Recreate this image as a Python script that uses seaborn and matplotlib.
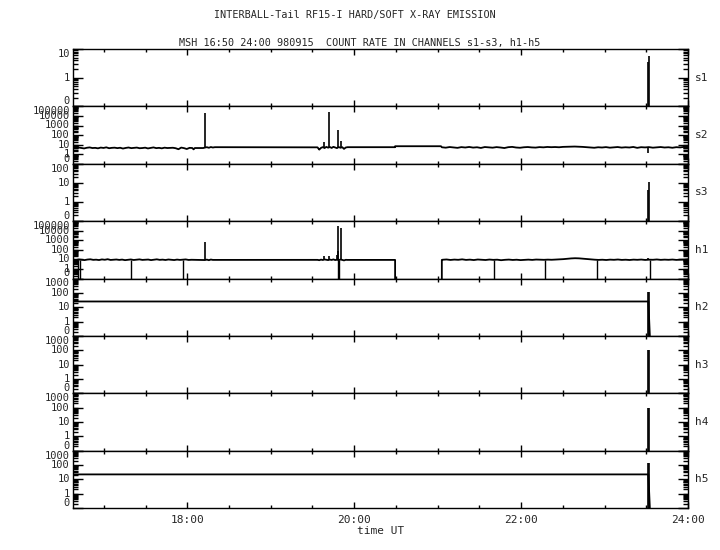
import numpy as np
import matplotlib
matplotlib.use("Agg")
import matplotlib.pyplot as plt
from matplotlib.ticker import MultipleLocator, FixedLocator, NullFormatter, FuncFormatter
import seaborn as sns

# time in hours UT, counts per channel (0 = no counts)
T_START, T_END = 16.63, 24.0
FLOOR = 0.05  # zero counts are drawn below the "0" line of the log axis

channels = ["s1", "s2", "s3", "h1", "h2", "h3", "h4", "h5"]
y_tops = [10, 1e5, 100, 1e5, 1000, 1000, 1000, 1000]

# --- s2: noisy stretches ---
s2_noise_a = [4.8, 4.3, 5.0, 4.5, 4.0, 4.7, 5.1, 4.4, 4.6, 4.1, 4.9, 4.5, 5.2, 4.2, 4.6,
              4.8, 4.3, 4.7, 3.9, 4.5, 5.0, 4.3, 4.6, 4.9, 4.2, 4.4, 4.8, 4.0, 4.5, 5.1,
              4.3, 4.6, 4.1, 4.8, 4.4, 4.6, 4.7, 4.2, 3.3, 4.9, 4.3, 3.5, 4.6, 4.4]
s2_noise_b = [4.9, 5.4, 4.7, 5.6, 5.0, 5.4]
s2_noise_c = [5.2, 3.0, 4.6, 5.5, 4.4, 5.8, 4.8, 5.6, 4.5, 5.9, 5.0, 4.3, 5.6, 4.7,
              5.4, 3.6, 5.0, 5.4]
s2_noise_d = [5.3, 4.8, 5.6, 5.1, 4.6, 5.5, 5.0, 5.7, 4.9, 5.3, 4.5, 5.6, 5.2, 4.8, 5.5,
              5.0, 4.4, 5.4, 5.8, 5.0, 4.7, 5.3, 5.6, 5.1, 4.9, 5.5, 5.2, 5.7, 5.4, 5.6,
              5.3, 5.8, 6.0, 6.2, 6.3, 6.1, 5.8, 5.4, 5.1, 4.7, 5.3, 5.0, 5.5, 4.8, 5.2,
              5.6, 4.9, 5.3, 5.0, 5.7, 4.6, 5.4, 5.1, 5.5, 4.8, 5.2, 5.6, 5.0, 5.3, 4.7,
              5.4, 5.1, 5.8, 6.4]
s2_spk_t = [18.21, 19.575, 19.632, 19.692, 19.80, 19.843, 23.52]
s2_spk_v = [19000, 3.0, 18, 25000, 370, 27, 1.5]
s2_spk_base = 5.0

# --- h1: noisy stretches ---
h1_noise_a = [9.4, 8.6, 9.8, 9.0, 8.4, 9.6, 10.2, 8.9, 9.3, 8.5, 9.9, 9.1, 10.4, 8.7, 9.2,
              9.7, 8.8, 9.5, 8.3, 9.0, 9.8, 8.6, 9.3, 10.0, 8.8, 9.1, 9.6, 8.4, 9.2, 10.1,
              8.9, 9.4, 8.6, 9.7, 9.0, 8.5, 9.5, 8.8, 9.3, 9.9, 8.7, 9.1]
h1_noise_b = [8.5, 9.4, 8.2, 9.6, 8.8, 8.8]
h1_noise_c = [8.9, 8.2, 9.4, 8.6, 9.8, 9.0, 8.4, 9.5, 8.7, 9.9, 8.5, 9.2, 8.3, 9.6,
              8.8, 7.8, 9.0, 8.8]
h1_noise_d = [9.2, 9.8, 8.7, 9.5, 9.0, 10.1, 8.8, 9.4, 8.5, 9.7, 9.1, 8.6, 9.6, 8.9, 9.3,
              8.2, 9.0, 9.5, 8.7, 9.2, 8.4, 9.0, 9.4, 8.8, 9.6, 9.3, 9.0, 9.4, 9.1, 9.6,
              9.9, 10.6, 11.6, 12.6, 13.2, 12.8, 11.8, 10.8, 9.9, 9.3, 8.8, 9.2, 8.6, 9.4,
              9.0, 9.7, 8.8, 9.2, 8.6, 9.4, 9.0, 9.6, 8.7, 9.3, 9.1, 9.8, 8.9, 9.4, 9.0,
              9.6, 8.8, 9.3, 9.5, 10.4]
h1_spk_t = [18.21, 19.632, 19.692, 19.79, 19.80, 19.807, 19.843, 23.52]
h1_spk_v = [660, 25, 25, 30, 70, 33000, 20000, 15]
h1_spk_base = 9.0
h1_drop_t = [16.69, 16.71, 17.33, 17.95, 19.81, 19.815, 21.67, 22.29, 22.91, 23.54]

# --- quiet channels: flat level, then the burst near 23:31 ---
s1_spk_t, s1_spk_v = [23.515, 23.527], [3.6, 5.8]
s3_spk_t, s3_spk_v = [23.515, 23.527], [4.0, 10.7]
h2_level, h2_spk_v = 25, [115, 115]
h3_spk_v = [100, 100]
h4_spk_v = [100, 100]
h5_level, h5_spk_v = 22, [130, 130]
burst_t = [23.525, 23.535]


def segs(parts):
    t, v = [], []
    for start, end, vals in parts:
        if start == end:
            t += [start] * len(vals)
        else:
            t += list(np.linspace(start, end, len(vals)))
        v += list(vals)
    return np.array(t), np.array(v, dtype=float)


s2_t, s2_v = segs([(T_START, 18.06, s2_noise_a), (18.075, 18.075, [3.2]),
                   (18.09, 18.19, [4.4, 4.4]), (18.21, 18.33, s2_noise_b),
                   (19.56, 19.92, s2_noise_c), (20.49, 20.49, [5.4, 6.8]),
                   (21.04, 21.04, [6.8]), (21.05, T_END, s2_noise_d)])
h1_t, h1_v = segs([(T_START, 18.05, h1_noise_a), (18.19, 18.19, [8.6]),
                   (18.21, 18.33, h1_noise_b), (19.56, 19.92, h1_noise_c),
                   (20.49, 20.49, [8.8, 0]), (21.05, 21.05, [0, 8.8]),
                   (21.06, T_END, h1_noise_d)])

series = {
    "s1": (np.array([T_START, T_END]), np.array([0.0, 0.0])),
    "s2": (s2_t, s2_v),
    "s3": (np.array([T_START, T_END]), np.array([0.0, 0.0])),
    "h1": (h1_t, h1_v),
    "h2": (np.array([T_START, 23.525, 23.545, T_END]), np.array([h2_level, h2_level, 0, 0])),
    "h3": (np.array([T_START, T_END]), np.array([0.0, 0.0])),
    "h4": (np.array([T_START, T_END]), np.array([0.0, 0.0])),
    "h5": (np.array([T_START, 23.525, 23.545, T_END]), np.array([h5_level, h5_level, 0, 0])),
}
spikes = {
    "s1": (s1_spk_t, s1_spk_v, FLOOR),
    "s2": (s2_spk_t, s2_spk_v, s2_spk_base),
    "s3": (s3_spk_t, s3_spk_v, FLOOR),
    "h1": (h1_spk_t, h1_spk_v, h1_spk_base),
    "h2": (burst_t, h2_spk_v, FLOOR),
    "h3": (burst_t, h3_spk_v, FLOOR),
    "h4": (burst_t, h4_spk_v, FLOOR),
    "h5": (burst_t, h5_spk_v, FLOOR),
}

sns.set_style("ticks")
plt.rcParams["font.family"] = ["DejaVu Sans Mono"]
plt.rcParams["axes.linewidth"] = 1.0

fig, axes = plt.subplots(8, 1, figsize=(7.2, 5.5), dpi=100, sharex=True)
fig.subplots_adjust(left=73/720, right=688/720, top=1-49/550, bottom=1-508/550, hspace=0)

for ax, name, top in zip(axes, channels, y_tops):
    ax.set_yscale("log")
    t, v = series[name]
    sns.lineplot(x=t, y=np.maximum(v, FLOOR), ax=ax, estimator=None, sort=False,
                 color="black", lw=1.3)
    st, sv, base = spikes[name]
    ax.vlines(st, base, sv, color="black", lw=1.2)
    if name == "h1":
        ax.vlines(h1_drop_t, FLOOR, h1_spk_base, color="black", lw=1.0)

    ax.set_ylim(0.1, top)
    ax.set_xlim(T_START, T_END)
    decades = 10.0 ** np.arange(-1, np.log10(top) + 0.5)
    minors = [d * k for d in decades[:-1] for k in range(2, 10)]
    ax.yaxis.set_major_locator(FixedLocator(decades))
    ax.yaxis.set_minor_locator(FixedLocator(minors))
    ax.yaxis.set_major_formatter(NullFormatter())
    ax.yaxis.set_minor_formatter(NullFormatter())
    tr = ax.get_yaxis_transform()
    for i, d in enumerate(decades):
        lab = "0" if d < 1 else f"{d:.0f}"
        va = "bottom" if i == 0 else ("top" if i == len(decades) - 1 else "center")
        ax.text(-0.005, d, lab, transform=tr, ha="right", va=va, fontsize=7.5)
    ax.text(1.012, 0.5, name, transform=ax.transAxes, ha="left", va="center", fontsize=8)

    ax.xaxis.set_major_locator(MultipleLocator(2))
    ax.xaxis.set_minor_locator(MultipleLocator(0.5))
    ax.tick_params(axis="both", which="both", direction="in", top=True, right=True,
                   width=1, color="black")
    ax.tick_params(axis="x", which="major", length=4)
    ax.tick_params(axis="x", which="minor", length=2)
    ax.tick_params(axis="y", which="major", length=7)
    ax.tick_params(axis="y", which="minor", length=3.5)
    for sp in ax.spines.values():
        sp.set_visible(True)
        sp.set_color("black")

axes[-1].xaxis.set_major_formatter(FuncFormatter(lambda x, p: f"{int(round(x)):02d}:00"))
axes[-1].tick_params(axis="x", which="major", labelsize=8, pad=5)
axes[-1].set_xlabel("time UT", fontsize=8, labelpad=1)

fig.text(355/720, 1-15/550, "INTERBALL-Tail RF15-I HARD/SOFT X-RAY EMISSION",
         ha="center", va="center", fontsize=7.3)
fig.text(360/720, 1-43/550, "MSH 16:50 24:00 980915  COUNT RATE IN CHANNELS s1-s3, h1-h5",
         ha="center", va="center", fontsize=7.3)

fig.savefig("out.png", dpi=100, facecolor="white")
